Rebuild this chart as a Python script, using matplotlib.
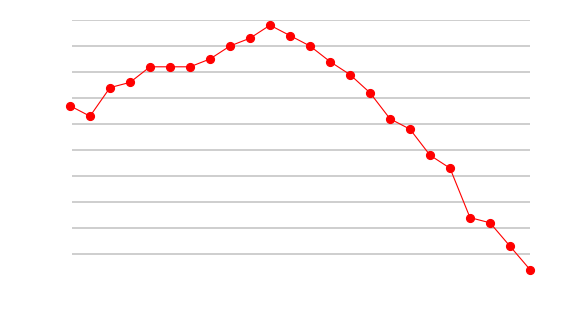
import matplotlib.pyplot as plt

# values (one point per period)
periods = list(range(1, 25))
values = [6.7, 6.3, 7.4, 7.6, 8.2, 8.2, 8.2, 8.5, 9.0, 9.3, 9.8, 9.4,
          9.0, 8.4, 7.9, 7.2, 6.2, 5.8, 4.8, 4.3, 2.4, 2.2, 1.3, 0.4]
grid_levels = list(range(1, 11))

fig = plt.figure(figsize=(5.7, 3.2), dpi=100)
ax = fig.add_axes([70 / 570, 40 / 320, 460 / 570, 260 / 320])

# grid starts a touch right of the first point, like the original
ax.hlines(grid_levels, 1.1, 24, color="#c6c6c6", linewidth=1.2, zorder=1)
ax.plot(periods, values, color="#ff0000", linewidth=0.8, marker="o",
        markersize=5.6, clip_on=False, zorder=3)

ax.set_xlim(1, 24)
ax.set_ylim(0, 10)
ax.set_xticks([])
ax.set_yticks([])
for spine in ax.spines.values():
    spine.set_visible(False)

fig.savefig("out.png", dpi=100)
